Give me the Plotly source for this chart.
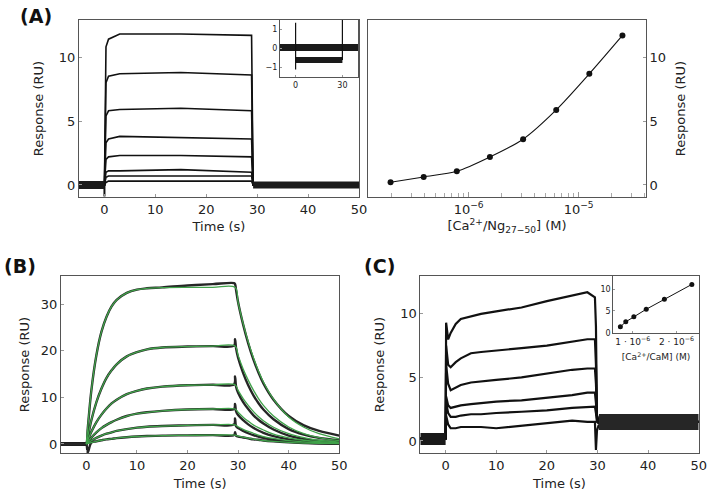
import plotly.graph_objects as go

# ---------------- Panel A (left): sensorgrams ----------------
A_time = [-5, 0, 0.3, 0.8, 3, 15, 28.9, 29.2, 50]
A_tr1 = [0, 0, 10.8, 11.4, 11.8, 11.8, 11.7, 0, 0]
A_tr2 = [0, 0, 8.0, 8.5, 8.7, 8.8, 8.6, 0, 0]
A_tr3 = [0, 0, 5.4, 5.8, 5.9, 6.0, 5.8, 0, 0]
A_tr4 = [0, 0, 3.3, 3.6, 3.8, 3.7, 3.6, 0, 0]
A_tr5 = [0, 0, 2.0, 2.2, 2.3, 2.3, 2.2, 0, 0]
A_tr6 = [0, 0, 1.0, 1.1, 1.1, 1.2, 1.0, 0, 0]
A_tr7 = [0, 0, 0.6, 0.7, 0.7, 0.7, 0.7, 0, 0]
A_tr8 = [0, 0, 0.2, 0.3, 0.3, 0.3, 0.3, 0, 0]
A_spike_t = [0, 0]
A_spike_y = [0, -0.9]
A_base_pre_t = [-5, 0]
A_base_post_t = [29.2, 50]
A_base_y = [0, 0]

# inset of panel A (reference subtraction)
IA_base_t = [-10, 40]
IA_base_y = [0.05, 0.05]
IA_low_t = [0, 30]
IA_low_y = [-0.6, -0.6]
IA_spike1_t = [0, 0]
IA_spike1_y = [-1.1, 1.35]
IA_spike2_t = [30, 30]
IA_spike2_y = [-0.6, 1.5]

# ---------------- Panel A (right): dose response ----------------
A_conc = [1.95e-7, 3.9e-7, 7.8e-7, 1.56e-6, 3.125e-6, 6.25e-6, 1.25e-5, 2.5e-5]
A_resp = [0.21, 0.63, 1.07, 2.19, 3.58, 5.87, 8.69, 11.69]

# ---------------- Panel B: kinetics with fits ----------------
B_t = [-5, -0.2, 0, 0.3, 1, 2, 3, 4, 5, 6, 8, 10, 12, 15, 20, 25, 29.2, 29.4, 29.6,
       30, 31, 32, 33, 34, 35, 37, 40, 43, 46, 50]
B_d1 = [0, 0, 0, 3.5, 11.5, 19.1, 24.1, 27.3, 29.5, 30.9, 32.4, 33.1, 33.4, 33.6, 34.0, 34.3, 34.5, 34.3, 33.0,
        30.4, 25.6, 21.6, 18.2, 15.4, 13.0, 9.5, 6.0, 4.0, 2.8, 1.8]
B_d2 = [0, 0, 0, 1.5, 5.1, 9.0, 11.9, 14.2, 15.8, 17.1, 18.8, 19.7, 20.3, 20.7, 20.9, 21.0, 21.1, 22.5, 20.5,
        18.5, 15.2, 12.6, 10.5, 8.8, 7.4, 5.3, 3.2, 2.0, 1.3, 0.8]
B_d3 = [0, 0, 0, 0.8, 2.6, 4.7, 6.3, 7.6, 8.7, 9.5, 10.7, 11.4, 11.9, 12.3, 12.6, 12.7, 12.8, 14.5, 12.3,
        11.0, 9.0, 7.5, 6.2, 5.2, 4.4, 3.1, 1.8, 1.1, 0.7, 0.4]
B_d4 = [0, 0, 0, 0.4, 1.36, 2.5, 3.4, 4.1, 4.7, 5.2, 6.0, 6.5, 6.8, 7.1, 7.4, 7.5, 7.5, 8.6, 7.0,
        6.2, 5.1, 4.2, 3.5, 2.9, 2.4, 1.7, 1.0, 0.6, 0.4, 0.2]
B_d5 = [0, 0, 0, 0.2, 0.7, 1.3, 1.8, 2.2, 2.5, 2.8, 3.2, 3.5, 3.7, 3.85, 4.0, 4.1, 4.2, 5.5, 3.8,
        3.4, 2.8, 2.3, 1.9, 1.6, 1.3, 0.9, 0.5, 0.3, 0.2, 0.1]
B_d6 = [0, 0, 0, -1.8, 0.3, 0.57, 0.8, 1.0, 1.1, 1.25, 1.45, 1.6, 1.7, 1.8, 1.85, 1.9, 1.9, 2.5, 1.8,
        1.6, 1.4, 1.2, 1.0, 0.9, 0.75, 0.55, 0.35, 0.2, 0.1, 0.05]

G_t = [0, 1, 2, 3, 4, 5, 6, 8, 10, 12, 15, 20, 25, 29.4, 30, 31, 32, 33, 34, 35, 37, 40, 43, 46, 50]
B_f1 = [0, 11.5, 19.1, 24.1, 27.3, 29.5, 30.9, 32.4, 33.1, 33.4, 33.55, 33.6, 33.6, 33.6,
        30.4, 25.8, 21.9, 18.6, 15.7, 13.3, 9.6, 5.8, 3.6, 2.2, 1.1]
B_f2 = [0, 5.1, 9.0, 11.9, 14.2, 15.8, 17.1, 18.8, 19.7, 20.3, 20.7, 20.9, 21.0, 21.0,
        19.0, 16.1, 13.7, 11.6, 9.8, 8.3, 6.0, 3.65, 2.2, 1.36, 0.7]
B_f3 = [0, 2.6, 4.7, 6.3, 7.6, 8.7, 9.5, 10.7, 11.4, 11.9, 12.3, 12.6, 12.7, 12.7,
        11.5, 9.75, 8.3, 7.0, 5.9, 5.0, 3.6, 2.2, 1.35, 0.8, 0.4]
B_f4 = [0, 1.36, 2.5, 3.4, 4.1, 4.7, 5.2, 6.0, 6.5, 6.8, 7.1, 7.4, 7.5, 7.5,
        6.8, 5.75, 4.9, 4.1, 3.5, 3.0, 2.1, 1.3, 0.8, 0.5, 0.25]
B_f5 = [0, 0.7, 1.3, 1.8, 2.2, 2.5, 2.8, 3.2, 3.5, 3.7, 3.85, 4.0, 4.1, 4.1,
        3.7, 3.15, 2.7, 2.3, 1.9, 1.6, 1.2, 0.7, 0.45, 0.3, 0.15]
B_f6 = [0, 0.3, 0.57, 0.8, 1.0, 1.1, 1.25, 1.45, 1.6, 1.7, 1.8, 1.85, 1.9, 1.9,
        1.7, 1.46, 1.24, 1.05, 0.9, 0.75, 0.55, 0.33, 0.2, 0.12, 0.06]
B_base_t = [-5, 0]
B_base_y = [0, 0]

# ---------------- Panel C: sensorgrams ----------------
C_t = [-5, 0, 0.1, 0.5, 1, 2, 3, 5, 7, 10, 15, 20, 25, 28, 29.5, 29.7, 29.9, 30.2, 31, 50]
C_tr1 = [0.2, 0.2, 9.3, 8.0, 8.5, 9.2, 9.6, 9.8, 10.0, 10.2, 10.5, 11.0, 11.4, 11.7, 11.3, 9.0, 2.0, 1.6, 1.5, 1.5]
C_tr2 = [0.2, 0.2, 7.5, 6.0, 5.8, 6.2, 6.5, 6.9, 7.0, 7.1, 7.3, 7.5, 7.8, 8.0, 8.0, 6.0, 2.0, 1.5, 1.5, 1.5]
C_tr3 = [0.2, 0.2, 6.0, 4.5, 4.0, 4.2, 4.4, 4.6, 4.7, 4.8, 5.0, 5.3, 5.6, 5.7, 5.7, 4.5, 2.0, 1.5, 1.5, 1.5]
C_tr4 = [0.2, 0.2, 3.5, 2.8, 2.6, 2.7, 2.8, 2.9, 3.0, 3.1, 3.2, 3.4, 3.6, 3.8, 3.8, 3.0, 1.8, 1.5, 1.5, 1.5]
C_tr5 = [0.2, 0.2, 3.0, 2.2, 1.9, 1.9, 2.0, 2.1, 2.1, 2.2, 2.3, 2.4, 2.6, 2.7, 2.7, 2.2, 1.5, 1.4, 1.5, 1.5]
C_tr6 = [0.2, 0.2, 2.0, 1.3, 1.0, 1.0, 1.1, 1.1, 1.1, 1.0, 1.2, 1.4, 1.6, 1.5, 1.5, -0.7, 0.8, 1.2, 1.4, 1.5]
C_base_pre_t = [-5, 0]
C_base_pre_y = [0.15, 0.15]
C_base_post_t = [30.3, 50]
C_base_post_y = [1.5, 1.5]

# inset of panel C
IC_conc = [0.714e-6, 0.838e-6, 1.023e-6, 1.307e-6, 1.723e-6, 2.353e-6]
IC_resp = [1.36, 2.5, 3.64, 5.39, 7.66, 11.1]

# ---------------- figure ----------------
W, H = 709, 495
FONT = "DejaVu Sans"
BLACK = "#111111"
GREEN = "#40a24a"

fig = go.Figure()


def line(x, y, xa, ya, width=1.3, color=BLACK, shape="linear"):
    fig.add_trace(go.Scatter(x=x, y=y, mode="lines", xaxis=xa, yaxis=ya,
                             line=dict(color=color, width=width, shape=shape),
                             showlegend=False, hoverinfo="skip"))


# Panel A left
for tr in [A_tr1, A_tr2, A_tr3, A_tr4, A_tr5, A_tr6, A_tr7, A_tr8]:
    line(A_time, tr, "x", "y", width=1.6)
line(A_spike_t, A_spike_y, "x", "y", width=2)
line(A_base_pre_t, A_base_y, "x", "y", width=8, color="#1a1a1a")
line(A_base_post_t, A_base_y, "x", "y", width=7, color="#1a1a1a")

# Inset A
line(IA_base_t, IA_base_y, "x2", "y2", width=7, color="#1a1a1a")
line(IA_low_t, IA_low_y, "x2", "y2", width=6, color="#1a1a1a")
line(IA_spike1_t, IA_spike1_y, "x2", "y2", width=1.2)
line(IA_spike2_t, IA_spike2_y, "x2", "y2", width=1.2)

# Panel A right
fig.add_trace(go.Scatter(x=A_conc, y=A_resp, mode="lines+markers", xaxis="x3", yaxis="y3",
                         line=dict(color=BLACK, width=1.1, shape="spline", smoothing=0.8),
                         marker=dict(color=BLACK, size=6),
                         showlegend=False, hoverinfo="skip"))

# Panel B
line(B_base_t, B_base_y, "x4", "y4", width=4)
for tr in [B_d1, B_d2, B_d3, B_d4, B_d5, B_d6]:
    line(B_t, tr, "x4", "y4", width=2.4, color="#262626", shape="spline")
for tr in [B_f1, B_f2, B_f3, B_f4, B_f5, B_f6]:
    line(G_t, tr, "x4", "y4", width=1.3, color=GREEN, shape="spline")

# Panel C
for tr in [C_tr1, C_tr2, C_tr3, C_tr4, C_tr5, C_tr6]:
    line(C_t, tr, "x5", "y5", width=2.2)
line(C_base_pre_t, C_base_pre_y, "x5", "y5", width=12, color="#1a1a1a")
line(C_base_post_t, C_base_post_y, "x5", "y5", width=16, color="#262626")

# Inset C
fig.add_trace(go.Scatter(x=IC_conc, y=IC_resp, mode="lines+markers", xaxis="x6", yaxis="y6",
                         line=dict(color=BLACK, width=1),
                         marker=dict(color=BLACK, size=5),
                         showlegend=False, hoverinfo="skip"))


def dom(x0, x1, y0, y1):
    return [x0 / W, x1 / W], [1 - y1 / H, 1 - y0 / H]


base_ax = dict(showline=True, mirror=True, linecolor="#555555", linewidth=1,
               ticks="inside", ticklen=3, tickcolor="#999999", showgrid=False,
               zeroline=False, automargin=False,
               tickfont=dict(size=13, family=FONT, color="#222"),
               title_font=dict(size=13, family=FONT, color="#222"))
inset_ax = dict(base_ax, tickfont=dict(size=8, family=FONT, color="#222"),
                title_font=dict(size=8, family=FONT, color="#222"), ticklen=2)

xA, yA = dom(79, 359, 20, 197)
xIA, yIA = dom(280, 358, 20, 77)
xAR, yAR = dom(368, 646, 20, 197)
xB, yB = dom(61, 339.3, 275.7, 453.3)
xC, yC = dom(420.3, 698.7, 275.7, 453.3)
xIC, yIC = dom(613.3, 698.7, 275.7, 332.7)

minor_log = [2e-7, 3e-7, 4e-7, 5e-7, 6e-7, 7e-7, 8e-7, 9e-7,
             2e-6, 3e-6, 4e-6, 5e-6, 6e-6, 7e-6, 8e-6, 9e-6,
             2e-5, 3e-5, 4e-5]

fig.update_layout(
    width=W, height=H, margin=dict(l=0, r=0, t=0, b=0, autoexpand=False),
    paper_bgcolor="white", plot_bgcolor="white",
    font=dict(family=FONT, color="#222"),
    xaxis=dict(base_ax, domain=xA, anchor="y", range=[-5, 50], tickvals=[0, 10, 20, 30, 40, 50],
               title=dict(text="Time (s)", standoff=6)),
    yaxis=dict(base_ax, domain=yA, anchor="x", range=[-0.94, 12.9], tickvals=[0, 5, 10],
               title=dict(text="Response (RU)", standoff=12)),
    xaxis2=dict(inset_ax, domain=xIA, anchor="y2", range=[-10, 40], tickvals=[0, 30]),
    yaxis2=dict(inset_ax, domain=yIA, anchor="x2", range=[-1.5, 1.5], tickvals=[-1, 0, 1],
                ticktext=["−1", "0", "1"]),
    xaxis3=dict(base_ax, domain=xAR, anchor="y3", type="log", range=[-6.915, -4.388],
                tickvals=[1e-6, 1e-5], ticktext=["10<sup>−6</sup>", "10<sup>−5</sup>"],
                ticklen=5,
                minor=dict(tickvals=minor_log, ticks="inside", ticklen=4, tickcolor="#aaaaaa"),
                title=dict(text="[Ca<sup>2+</sup>/Ng<sub>27−50</sub>] (M)", standoff=4)),
    yaxis3=dict(base_ax, domain=yAR, anchor="x3", side="right", range=[-0.94, 12.9],
                tickvals=[0, 5, 10], title=dict(text="Response (RU)", standoff=10)),
    xaxis4=dict(base_ax, domain=xB, anchor="y4", range=[-5, 50], tickvals=[0, 10, 20, 30, 40, 50],
                title=dict(text="Time (s)", standoff=6)),
    yaxis4=dict(base_ax, domain=yB, anchor="x4", range=[-2, 36.1], tickvals=[0, 10, 20, 30],
                title=dict(text="Response (RU)", standoff=8)),
    xaxis5=dict(base_ax, domain=xC, anchor="y5", range=[-5, 50], tickvals=[0, 10, 20, 30, 40, 50],
                title=dict(text="Time (s)", standoff=6)),
    yaxis5=dict(base_ax, domain=yC, anchor="x5", range=[-0.97, 13], tickvals=[0, 5, 10],
                title=dict(text="Response (RU)", standoff=12)),
    xaxis6=dict(inset_ax, domain=xIC, anchor="y6", range=[0.552e-6, 2.51e-6],
                tickvals=[1e-6, 2e-6], ticktext=["1 · 10<sup>−6</sup>", "2 · 10<sup>−6</sup>"],
                tickfont=dict(size=9, family=FONT, color="#222"),
                title=dict(text="[Ca<sup>2+</sup>/CaM] (M)", standoff=8,
                           font=dict(size=9, family=FONT, color="#222"))),
    yaxis6=dict(inset_ax, domain=yIC, anchor="x6", range=[0, 13.1], tickvals=[0, 5, 10]),
    annotations=[
        dict(text="<b>(A)</b>", x=18 / W, y=1 - 16 / H, xref="paper", yref="paper",
             xanchor="left", yanchor="middle", showarrow=False, font=dict(size=19, family=FONT, color="#111")),
        dict(text="<b>(B)</b>", x=2 / W, y=1 - 266 / H, xref="paper", yref="paper",
             xanchor="left", yanchor="middle", showarrow=False, font=dict(size=19, family=FONT, color="#111")),
        dict(text="<b>(C)</b>", x=362 / W, y=1 - 266 / H, xref="paper", yref="paper",
             xanchor="left", yanchor="middle", showarrow=False, font=dict(size=19, family=FONT, color="#111")),
    ],
)

fig.write_html("out.html", config={"displayModeBar": False},
               post_script="document.body.style.margin='0';")
